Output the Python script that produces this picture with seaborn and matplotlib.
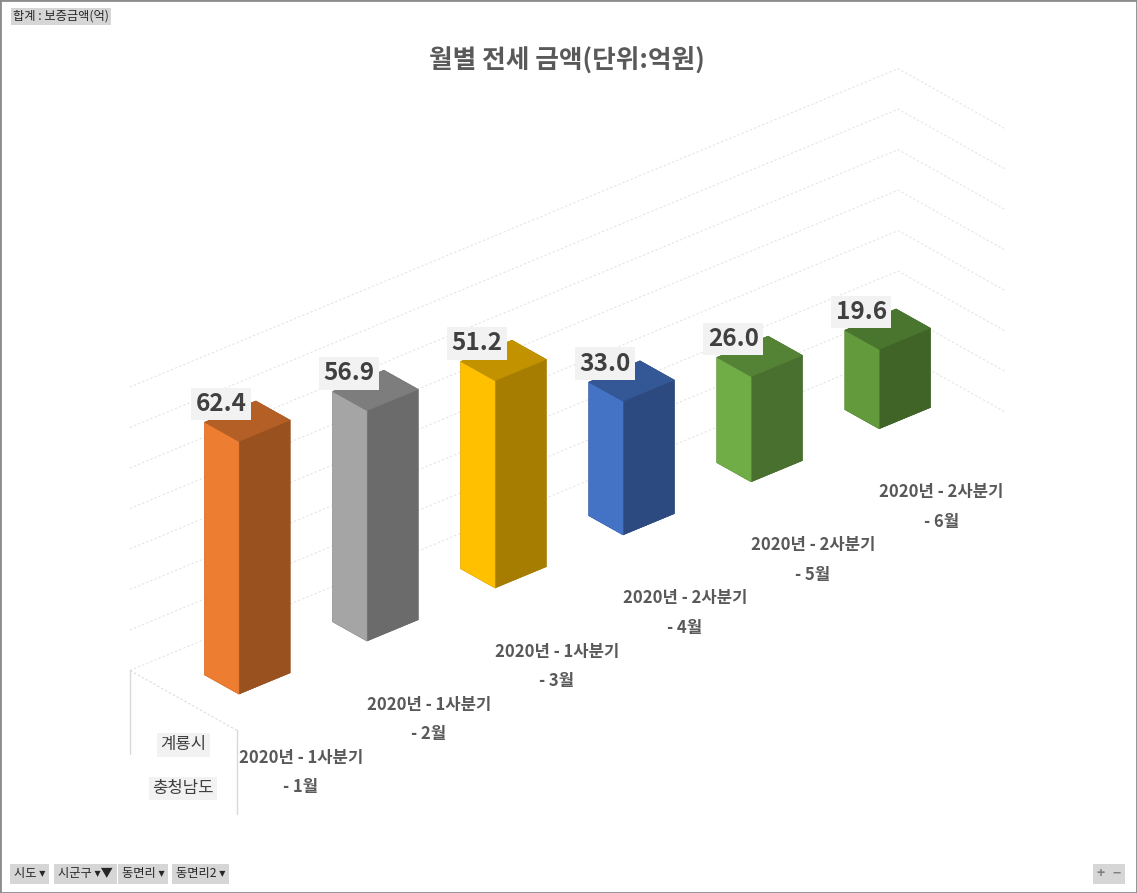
import numpy as np
import matplotlib
matplotlib.use("Agg")
import matplotlib.pyplot as plt
import matplotlib.colors as mcolors
from matplotlib.patches import Rectangle
import seaborn as sns

# data
quarters = ["2020년 - 1사분기", "2020년 - 1사분기", "2020년 - 1사분기",
            "2020년 - 2사분기", "2020년 - 2사분기", "2020년 - 2사분기"]
months = ["- 1월", "- 2월", "- 3월", "- 4월", "- 5월", "- 6월"]
values = [62.4, 56.9, 51.2, 33.0, 26.0, 19.6]
regions = ["계룡시", "충청남도"]
bar_colors = ["#ED7D31", "#A5A5A5", "#FFC000", "#4472C4", "#70AD47", "#629A3C"]
z_ticks = [0, 10, 20, 30, 40, 50, 60, 70]

sns.set_theme(style="white")
plt.rcParams['font.family'] = ['Noto Sans CJK KR', 'DejaVu Sans']

W, H = 1137, 893
fig = plt.figure(figsize=(W / 100, H / 100), dpi=100)

# screen px per data unit along x (category), y (depth), z (value)
px_x, px_y, px_z = 168.9, 164.0, 4.62
box = np.array([6 * px_x, 1 * px_y, 70 * px_z])
zoom = 1.3
side = 1.85 * np.linalg.norm(box) / (1.8294640721620434 * 25 / 24 * zoom)
cx, cy = 567.5, H - 399.5
frac = 0.095 / 0.185
left, bottom = cx - frac * side, cy - frac * side
ax = fig.add_axes([left / W, bottom / H, side / W, side / H], projection='3d')
ax.set_proj_type('ortho')
ax.view_init(elev=28.8, azim=-130.7)
ax.set_xlim(-0.5, 5.5)
ax.set_ylim(-0.5, 0.5)
ax.set_zlim(0, 70)
ax.set_box_aspect(box, zoom=zoom)
ax.set_axis_off()
for t in (ax.title, ax._left_title, ax._right_title):
    t.set_visible(False)
xlo, xhi = ax.get_xlim()
ylo, yhi = ax.get_ylim()

# dashed value gridlines on the back and side walls
for z in z_ticks:
    ax.plot([xlo, xhi, xhi], [yhi, yhi, ylo], [z, z, z], color='#E4E4E4',
            lw=0.8, ls=(0, (2, 2)), zorder=0.1, clip_on=False)

# bars: faces order -z, +z, -y, +y, -x, +x
pal = sns.color_palette(bar_colors)
face_cols = []
for c in pal:
    c = np.array(mcolors.to_rgb(c))
    dark = c * 0.65
    top = c * 0.76
    face_cols += [dark, top, dark, dark, c, dark]
face_cols = np.array(face_cols)
n = len(values)
bw, bd = 0.4, 0.32
xs = np.arange(n) - bw / 2
bars = ax.bar3d(xs, np.full(n, -bd / 2), np.zeros(n), bw, bd, values,
                color=face_cols, shade=False, edgecolors=face_cols, linewidth=0.4)
bars.set_clip_on(False)

# data labels
for i, v in enumerate(values):
    ax.text(i + 0.02, 0.27, v, f"{v:.1f}", ha='center', va='center',
            fontsize=17.5, fontweight='bold', color='#404040', zorder=50,
            clip_on=False,
            bbox=dict(boxstyle='square,pad=0.18', fc='#F2F2F2', ec='none'))

# category labels under the floor
for i in range(n):
    ax.text(i, ylo, -13.3, quarters[i], ha='center', va='center', clip_on=False,
            fontsize=12, fontweight='bold', color='#595959', zorder=40)
    ax.text(i, ylo, -20.6, months[i], ha='center', va='center', clip_on=False,
            fontsize=12, fontweight='bold', color='#595959', zorder=40)

# outer level labels and separators
ax.text(xlo, 0, -11, regions[0], ha='center', va='center', fontsize=12, zorder=40,
        clip_on=False, color='#404040',
        bbox=dict(boxstyle='square,pad=0.2', fc='#F2F2F2', ec='none'))
ax.text(xlo, 0, -21.8, regions[1], ha='center', va='center', fontsize=12, zorder=40,
        clip_on=False, color='#404040',
        bbox=dict(boxstyle='square,pad=0.2', fc='#F2F2F2', ec='none'))
ax.plot([xlo, xlo], [yhi, yhi], [0, -20.7], color='#D9D9D9', lw=1, zorder=0.1, clip_on=False)
ax.plot([xlo, xlo], [ylo, ylo], [0, -20.7], color='#D9D9D9', lw=1, zorder=0.1, clip_on=False)
ax.plot([xlo, xlo], [ylo, yhi], [0, 0], color='#DADADA', lw=0.8, ls=(0, (2, 2)),
        zorder=0.1, clip_on=False)

# title and pivot chrome
fig.text(566.5 / W, 1 - 60 / H, "월별 전세 금액(단위:억원)", ha='center', va='center',
         fontsize=18.5, fontweight='bold', color='#595959')
fig.text(13 / W, 1 - 16.5 / H, "합계 : 보증금액(억)", ha='left', va='center',
         fontsize=8.8, color='#262626',
         bbox=dict(boxstyle='square,pad=0.2', fc='#D6D6D6', ec='none'))
buttons = [("시도 ▾", 14), ("시군구 ▾▼", 58), ("동면리 ▾", 122), ("동면리2 ▾", 176)]
for label, x0 in buttons:
    fig.text(x0 / W, 1 - 874 / H, label, ha='left', va='center', fontsize=8.8,
             color='#262626', bbox=dict(boxstyle='square,pad=0.3', fc='#D6D6D6', ec='none'))
for label, x0 in [("+", 1101), ("−", 1117)]:
    fig.text(x0 / W, 1 - 874 / H, label, ha='center', va='center', fontsize=10,
             fontweight='bold', color='#7F7F7F',
             bbox=dict(boxstyle='square,pad=0.25', fc='#D6D6D6', ec='none'))

fig.patches.append(Rectangle((0, 0), 1, 1, transform=fig.transFigure, fill=False,
                             edgecolor='#8C8C8C', lw=2))

fig.savefig("out.png", dpi=100)
